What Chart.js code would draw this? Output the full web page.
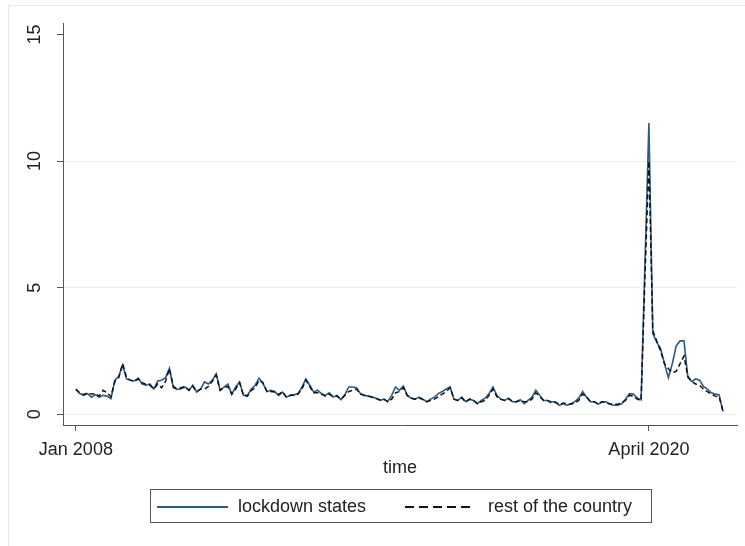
<!DOCTYPE html>
<html>
<head>
<meta charset="utf-8">
<script src="https://cdn.jsdelivr.net/npm/chart.js@4.4.1/dist/chart.umd.min.js"></script>
<style>
  body { margin: 0; background: #fff; }
  #wrap { position: relative; width: 745px; height: 546px; }
  #frame { position: absolute; left: 8px; top: 5px; right: 0; bottom: 0;
    border-left: 1px solid #e4ecef; border-top: 1px solid #e4ecef; pointer-events: none; }
  #legend { position: absolute; left: 150px; top: 489px; width: 502px; height: 34px;
    border: 1px solid #555; box-sizing: border-box;
    font: 18px "Liberation Sans", Arial, sans-serif; color: #222; }
  #legend span { position: absolute; }
  .txt { top: 6px; line-height: 20px; white-space: nowrap; }
  .solid { left: 6px; top: 16px; width: 71px; height: 1.5px; background: #2c5b87; }
  .dash { left: 254px; top: 16px; width: 66px; height: 1.5px;
    background: repeating-linear-gradient(to right, #111 0 9px, transparent 9px 14px); }
</style>
</head>
<body>
<div id="wrap">
  <canvas id="myChart" width="745" height="546"></canvas>
  <div id="frame"></div>
  <div id="legend">
    <span class="solid"></span><span class="txt" style="left:87px">lockdown states</span>
    <span class="dash"></span><span class="txt" style="left:337px">rest of the country</span>
  </div>
</div>
<script>
// monthly series, Jan 2008 .. Nov 2021
var lockdownStates = [
  0.97, 0.82, 0.75, 0.82, 0.68, 0.78, 0.68, 0.75, 0.72, 0.62, 1.35, 1.5,
  1.95, 1.4, 1.35, 1.32, 1.43, 1.2, 1.15, 1.2, 1.0, 1.32, 1.35, 1.45,
  1.82, 1.05, 0.98, 1.01, 1.08, 0.95, 1.15, 0.88, 1.0, 1.28, 1.2, 1.35,
  1.6, 0.95, 1.08, 1.2, 0.8, 1.08, 1.28, 0.75, 0.75, 1.0, 1.15, 1.43,
  1.22, 0.9, 0.95, 0.9, 0.75, 0.88, 0.68, 0.75, 0.77, 0.82, 1.08, 1.4,
  1.15, 0.88, 0.95, 0.82, 0.75, 0.85, 0.68, 0.75, 0.58, 0.77, 1.08, 1.08,
  1.05, 0.82, 0.75, 0.72, 0.68, 0.64, 0.55, 0.6, 0.5, 0.75, 1.08, 0.95,
  1.12, 0.75, 0.64, 0.6, 0.68, 0.6, 0.5, 0.6, 0.68, 0.82, 0.9, 1.0,
  1.08, 0.6, 0.55, 0.68, 0.5, 0.6, 0.55, 0.42, 0.55, 0.64, 0.82, 1.08,
  0.75, 0.6, 0.55, 0.64, 0.5, 0.5, 0.58, 0.42, 0.55, 0.68, 0.95, 0.75,
  0.55, 0.55, 0.5, 0.5, 0.36, 0.42, 0.36, 0.42, 0.5, 0.64, 0.9, 0.68,
  0.5, 0.5, 0.4, 0.5, 0.5, 0.4, 0.36, 0.36, 0.42, 0.6, 0.82, 0.8,
  0.65, 0.58, 6.0, 11.5, 3.2, 2.85, 2.6, 2.0, 1.45, 2.0, 2.7, 2.9,
  2.9, 1.45, 1.3, 1.4, 1.35, 1.1, 1.0, 0.85, 0.8, 0.78, 0.12
];
var restOfCountry = [
  1.0, 0.85, 0.78, 0.85, 0.8, 0.82, 0.72, 0.95, 0.85, 0.7, 1.3, 1.45,
  2.0, 1.45, 1.35, 1.3, 1.4, 1.25, 1.18, 1.15, 1.0, 1.2, 1.05, 1.3,
  1.8, 1.1, 1.0, 1.05, 1.1, 0.95, 1.1, 0.9, 1.0, 1.0, 1.1, 1.3,
  1.55, 0.95, 1.05, 1.1, 0.8, 1.0, 1.25, 0.75, 0.72, 0.95, 1.05, 1.35,
  1.25, 0.9, 0.9, 0.88, 0.78, 0.9, 0.68, 0.75, 0.75, 0.8, 1.0, 1.35,
  1.1, 0.85, 0.85, 0.8, 0.72, 0.8, 0.7, 0.72, 0.6, 0.75, 0.9, 0.95,
  1.0, 0.8, 0.75, 0.72, 0.68, 0.62, 0.58, 0.6, 0.5, 0.6, 0.85, 0.9,
  1.05, 0.75, 0.65, 0.6, 0.65, 0.58, 0.5, 0.55, 0.6, 0.7, 0.8, 0.9,
  1.05, 0.6, 0.55, 0.65, 0.48, 0.6, 0.55, 0.42, 0.5, 0.55, 0.75, 1.0,
  0.7, 0.6, 0.55, 0.62, 0.5, 0.5, 0.55, 0.5, 0.5, 0.6, 0.85, 0.7,
  0.55, 0.55, 0.45, 0.48, 0.38, 0.45, 0.4, 0.4, 0.45, 0.55, 0.8, 0.7,
  0.5, 0.5, 0.4, 0.5, 0.45, 0.42, 0.4, 0.4, 0.45, 0.55, 0.75, 0.72,
  0.6, 0.55, 5.5, 10.0, 3.3, 2.9, 2.5, 2.0, 1.8, 1.65, 1.7, 2.0,
  2.3, 1.5, 1.3, 1.2, 1.15, 1.0, 0.9, 0.8, 0.72, 0.7, 0.12
];
var xTickValues = [0, 147];
var xTickLabels = ["Jan 2008", "April 2020"];
var yTickValues = [0, 5, 10, 15];

var font = "'Liberation Sans', Arial, sans-serif";
var axisColor = "#555";

function toPoints(arr) {
  return arr.map(function (v, i) { return { x: i, y: v }; });
}

new Chart("myChart", {
  type: "line",
  data: {
    datasets: [
      {
        label: "lockdown states",
        data: toPoints(lockdownStates),
        borderColor: "#2c5b87",
        borderWidth: 1.6,
        pointRadius: 0,
        tension: 0,
        order: 2,
      },
      {
        label: "rest of the country",
        data: toPoints(restOfCountry),
        borderColor: "#111",
        borderWidth: 1.5,
        borderDash: [5, 3],
        pointRadius: 0,
        tension: 0,
        order: 1,
      },
    ],
  },
  options: {
    responsive: false,
    animation: false,
    layout: { padding: { top: 23, right: 8, left: 0, bottom: 66 } },
    plugins: { legend: { display: false }, tooltip: { enabled: false } },
    scales: {
      x: {
        type: "linear",
        min: -3.3,
        max: 169.6,
        afterFit: function (s) { s.height = 55; },
        afterBuildTicks: function (s) {
          s.ticks = xTickValues.map(function (v) { return { value: v }; });
        },
        ticks: {
          autoSkip: false,
          maxRotation: 0,
          padding: 8,
          color: "#222",
          font: { family: font, size: 18 },
          callback: function (v) { return xTickLabels[xTickValues.indexOf(v)]; },
        },
        grid: { drawOnChartArea: false, drawTicks: true, tickLength: 6, tickColor: axisColor },
        border: { color: axisColor, width: 1 },
        title: {
          display: true,
          text: "time",
          color: "#222",
          font: { family: font, size: 18 },
          padding: { top: 0, bottom: 1 },
        },
      },
      y: {
        min: -0.42,
        max: 15.45,
        afterFit: function (s) { s.width = 63; },
        afterBuildTicks: function (s) {
          s.ticks = yTickValues.map(function (v) { return { value: v }; });
        },
        ticks: {
          minRotation: 90,
          maxRotation: 90,
          crossAlign: "center",
          padding: 12,
          color: "#222",
          font: { family: font, size: 18 },
        },
        grid: {
          color: function (ctx) {
            return ctx.tick && ctx.tick.value === 15 ? "rgba(0,0,0,0)" : "#e6eff2";
          },
          tickColor: axisColor,
          tickLength: 6,
          lineWidth: 1,
        },
        border: { color: axisColor, width: 1 },
      },
    },
  },
});
</script>
</body>
</html>
